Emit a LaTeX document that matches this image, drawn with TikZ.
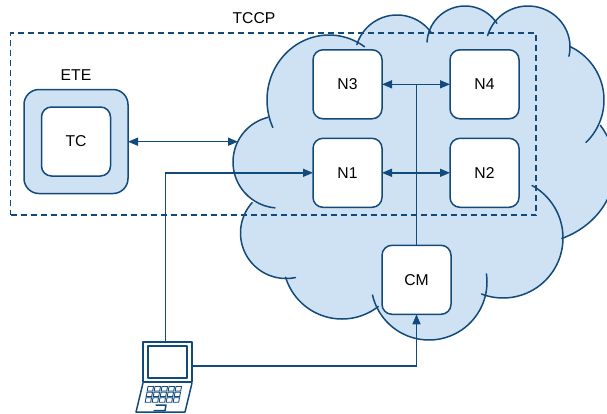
\documentclass[tikz,border=0pt]{standalone}
\usepackage{fontspec}
\setmainfont{Liberation Sans}
\usetikzlibrary{positioning}
\usetikzlibrary{arrows.meta}
\definecolor{linkblue}{HTML}{134A7C}
\definecolor{cloudblue}{HTML}{CFE2F3}
\tikzset{
        linkline/.style={draw=linkblue, line width=1.5pt},
        % Server boxes
        node_box/.style={linkline, rounded corners=10pt, fill=white, minimum width=69pt, minimum height=69pt, inner sep=0pt, outer sep=0pt, font=\fontsize{15.7}{18}\selectfont},
        % Terminal surround
        node_outer/.style={node_box, rounded corners=15pt, fill=cloudblue, minimum width=104pt, minimum height=104pt},
        % Dashed frame
        node_frame/.style={draw=linkblue, line width=1.5pt, dash pattern=on 6pt off 4pt, minimum width=525.5pt, minimum height=182pt, inner sep=0pt, outer sep=0pt},
        % Plain captions
        node_caption/.style={inner sep=0pt, font=\fontsize{15.7}{18}\selectfont},
        % Cloud parts
        cloud_fill/.style={fill=cloudblue},
        cloud_core/.style={fill=cloudblue, draw=cloudblue, line width=2pt, line join=round},
        cloud_line/.style={linkline, line cap=round},
        link/.style={linkline, {Triangle[length=10pt,width=8pt]}-{Triangle[length=10pt,width=8pt]}},
        link_to/.style={linkline, -{Triangle[length=10pt,width=8pt]}},
        laptop_part/.style={linkline, line join=round},
        laptop_key/.style={draw=linkblue, line width=0.9pt}
}
\newcommand{\lobe}[7]{\path[#1] plot[domain=#6:#7, samples=48] ({#2+#4*cos(\x)},{#3+#5*sin(\x)});}
\newcommand{\cloudlobes}[1]{
    \lobe{#1}{329}{100}{62}{65}{155}{305}
    \lobe{#1}{397}{57}{42}{42}{197}{325}
    \lobe{#1}{465}{44}{38}{38}{183}{327}
    \lobe{#1}{528}{47}{42}{41}{196}{373}
    \lobe{#1}{545}{100}{59}{59}{295}{406}
    \lobe{#1}{530}{168}{85}{76}{326}{428}
    \lobe{#1}{503}{238}{60}{60}{299}{471}
    \lobe{#1}{429}{282}{58}{58}{-8}{167}
    \lobe{#1}{342}{260}{59}{59}{52}{163}
    \lobe{#1}{286}{233}{45.5}{45.5}{78}{222}
    \lobe{#1}{279}{162}{46}{46}{95}{256}
}
\begin{document}
\begin{tikzpicture}[x=1pt, y=-1pt]
    \useasboundingbox[fill=white] (0,0) rectangle (607,413);
    % cloud
    \cloudlobes{cloud_fill}
    \path[cloud_core] (273,127) -- (363,47) -- (357,45) -- (432,32) -- (427,42) -- (497,23) -- (489,36) -- (570,57)
        -- (569,48) -- (587,144) -- (601,125) -- (562,238) -- (533,183) -- (481,294) -- (487,274) -- (373,295)
        -- (380,308) -- (285,278) -- (295,276) -- (252,203) -- (275,208) -- (268,117) -- cycle;
    \cloudlobes{cloud_line}
    % frame
    \node[node_frame] (frame) at (273.25,124) {};
    \node[node_caption] (TCCP) at (254,18) {TCCP};
    % terminal
    \node[node_outer] (ETE) at (76,141.5) {};
    \node[node_box] (TC) at (ETE) {TC};
    \node[node_caption, above=9pt of ETE] (ETEcaption) {ETE};
    % servers
    \node[node_box] (N3) at (347.5,84.3) {N3};
    \node[node_box, right=68pt of N3] (N4) {N4};
    \node[node_box, below=19.5pt of N3] (N1) {N1};
    \node[node_box, right=68pt of N1] (N2) {N2};
    \node[node_box, below right=38pt and 0pt of N1] (CM) {CM};
    % laptop
    \node[minimum width=57pt, minimum height=71pt, inner sep=0pt, outer sep=0pt] (PC) at (164.5,376.5) {};
    \draw[laptop_part] (143,342) rectangle (192,382);
    \draw[laptop_part] (148,346) rectangle (187,378);
    \draw[laptop_part] (143,383) -- (136,412) -- (185,412) -- (192,383);
    \draw[laptop_part] (155.5,405) -- (166,405) -- (165,410.5) -- (153.5,410.5);
    \foreach \row in {0,1,2}
        \foreach \col in {0,1,2,3,4}
            \draw[laptop_key, xshift=(\col*7-\row*1)*1pt, yshift=-(\row*5.6)*1pt] (148,386.5) -- (153.5,386.5) -- (152.7,391) -- (147.2,391) -- cycle;
    % links
    \coordinate (cloudedge) at (238,141.7);
    \coordinate (busN3) at (N3.east -| CM.north);
    \coordinate (PCtop) at (165.6,341);
    \coordinate (PCside) at (193,366);
    \draw[link] (ETE.east |- cloudedge) -- (cloudedge);
    \draw[link] (N3) -- (N4);
    \draw[link] (N1) -- (N2);
    \draw[linkline] (CM) -- (busN3);
    \draw[link_to] (PCtop) |- (N1);
    \draw[link_to] (PCside) -| (CM);
\end{tikzpicture}
\end{document}
